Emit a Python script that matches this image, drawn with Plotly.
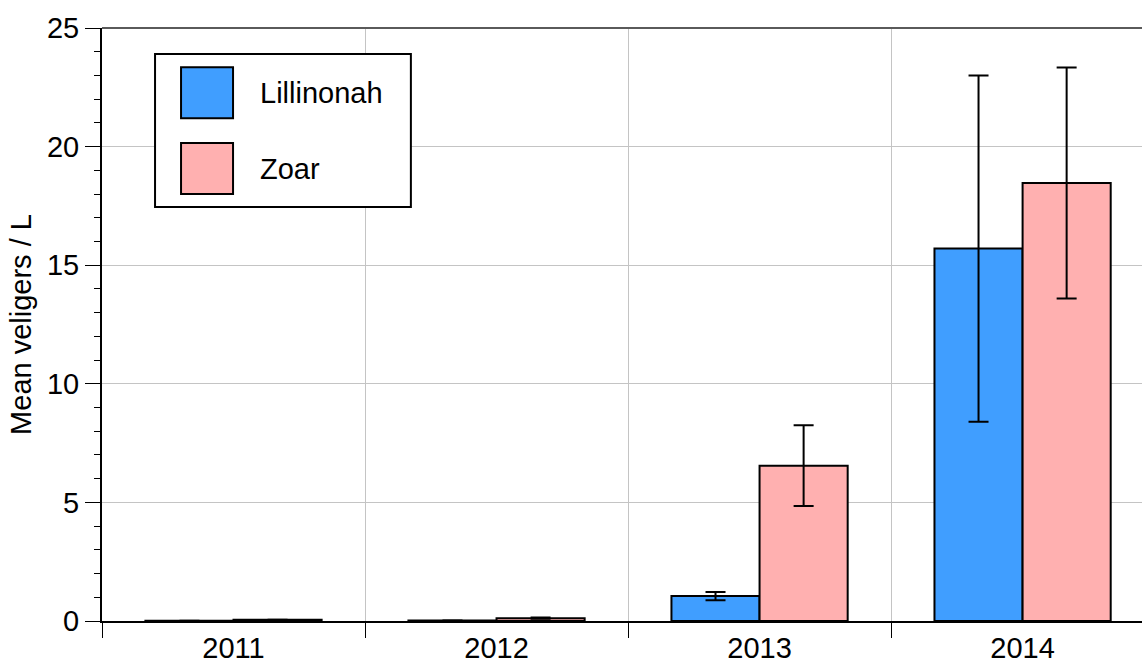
import plotly.graph_objects as go

# Mean veliger density per year for the two reservoirs
years = ["2011", "2012", "2013", "2014"]
series_names = ["Lillinonah", "Zoar"]
lillinonah_mean = [0.01, 0.02, 1.05, 15.7]
lillinonah_err = [0.0, 0.0, 0.17, 7.3]
zoar_mean = [0.05, 0.12, 6.55, 18.47]
zoar_err = [0.0, 0.03, 1.7, 4.87]

colors = ["#409EFF", "#FFB0B0"]
font_family = "Liberation Sans, Arial, Helvetica, sans-serif"
font_size = 29

fig = go.Figure()
for name, means, errs, col in zip(series_names, [lillinonah_mean, zoar_mean],
                                  [lillinonah_err, zoar_err], colors):
    fig.add_trace(go.Bar(
        x=years, y=means, name=name,
        marker=dict(color=col, line=dict(color="black", width=2)),
        error_y=dict(type="data", array=errs, visible=True,
                     color="black", thickness=2, width=10),
        showlegend=False,
    ))

# Hand-drawn legend box with large swatches
shapes = [
    dict(type="rect", xref="paper", yref="paper", x0=0.051, x1=0.297,
         y0=0.698, y1=0.956, line=dict(color="black", width=2),
         fillcolor="white", layer="above"),
    # top frame line
    dict(type="line", xref="paper", yref="paper", x0=0, x1=1, y0=1, y1=1,
         line=dict(color="#5a5a5a", width=2)),
]
annotations = []
swatch_rows = [(0.848, 0.934), (0.720, 0.806)]
for (y0, y1), name, col in zip(swatch_rows, series_names, colors):
    shapes.append(dict(type="rect", xref="paper", yref="paper",
                       x0=0.076, x1=0.126, y0=y0, y1=y1,
                       fillcolor=col, line=dict(color="black", width=2),
                       layer="above"))
    annotations.append(dict(xref="paper", yref="paper", x=0.150,
                            y=(y0 + y1) / 2, text=name, showarrow=False,
                            xanchor="left", yanchor="middle",
                            font=dict(size=font_size, color="black",
                                      family=font_family)))

fig.update_layout(
    width=1142, height=664,
    margin=dict(l=102, r=0, t=28, b=43),
    paper_bgcolor="white", plot_bgcolor="white",
    barmode="group", bargap=0.33, bargroupgap=0,
    font=dict(family=font_family, size=font_size, color="black"),
    shapes=shapes, annotations=annotations,
    xaxis=dict(
        type="category", range=[-0.5, 3.454], automargin=False,
        tickson="boundaries", ticks="outside", ticklen=15, tickwidth=1,
        tickcolor="black", showgrid=True, gridcolor="#c4c4c4", gridwidth=1,
        showline=True, linecolor="black", linewidth=2,
        tickfont=dict(size=font_size), zeroline=False,
    ),
    yaxis=dict(
        range=[0, 25], dtick=5, ticks="outside", ticklen=15, tickwidth=1,
        automargin=False,
        tickcolor="black", showgrid=True, gridcolor="#c4c4c4", gridwidth=1,
        showline=True, linecolor="black", linewidth=2, zeroline=False,
        tickfont=dict(size=font_size),
        minor=dict(ticks="outside", ticklen=6, dtick=1, tickcolor="black",
                   tickwidth=1, showgrid=False),
        title=dict(text="Mean veligers / L", font=dict(size=font_size),
                   standoff=7),
    ),
)

fig.write_html("out.html")
